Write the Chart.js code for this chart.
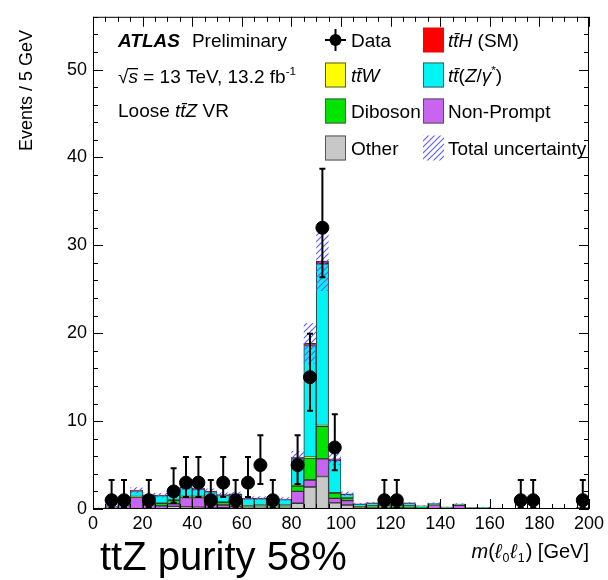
<!DOCTYPE html>
<html>
<head>
<meta charset="utf-8">
<script src="https://cdn.jsdelivr.net/npm/chart.js@4.4.1/dist/chart.umd.min.js"></script>
<style>
  html, body { margin: 0; padding: 0; background: #fff; }
  #wrap { width: 608px; height: 580px; }
</style>
</head>
<body>
<div id="wrap"><canvas id="mllChart" width="608" height="580"></canvas></div>
<script>
// m(l0 l1) in 5 GeV bins, 0-200 GeV
const binWidth = 5;
const binCenters = Array.from({ length: 40 }, (_, i) => binWidth / 2 + binWidth * i);

// MC stack, bottom to top
const other     = [0.02,0.05,0.05,0.05,0.05,0.05,0.3,0.25,0.2,0.1, 0.15,0.1,0.1,0.1,0.1,0.1,0.65,2.5,3.7,0.7, 0.45,0.05,0.05,0.05,0.05,0.05,0.03,0.03,0.02,0.02, 0.02,0.02,0.01,0.01,0.01,0.01,0.01,0.01,0.01,0.02];
const nonPrompt = [0.05,0.2,0.35,1.3,0.45,0.3,0.3,1.05,1.1,0.4, 0.3,0.2,0.15,0.1,0.1,0.1,1.35,0.8,2.0,0.5, 0.5,0.1,0.1,0.15,0.1,0.1,0.1,0.45,0.05,0.4, 0.05,0.08,0.03,0.02,0.03,0.05,0.02,0.05,0.02,0.03];
const diboson   = [0,0.02,0.02,0.05,0.05,0.3,0.4,0.1,0.1,0.1, 0.3,0.1,0.1,0.2,0.2,0.2,0.6,2.5,3.7,0.6, 0.3,0.1,0.2,0.2,0.3,0.2,0.05,0.05,0.05,0.05, 0.03,0.03,0.02,0.01,0.01,0.02,0.01,0.02,0.01,0.02];
const ttW       = [0,0.01,0.01,0.02,0.02,0.02,0.03,0.03,0.03,0.03, 0.03,0.03,0.03,0.03,0.03,0.03,0.05,0.1,0.1,0.05, 0.03,0.02,0.02,0.02,0.02,0.02,0.01,0.01,0.01,0.01, 0.01,0.01,0.01,0,0,0,0,0,0,0];
const ttZ       = [0.03,0.05,0.1,0.65,1.0,0.85,0.55,1.0,0.85,1.35, 0.8,1.25,0.8,0.75,0.7,0.65,3.05,12.7,18.4,3.7, 0.4,0.3,0.3,0.35,0.25,0.3,0.15,0.1,0.08,0.07, 0.05,0.05,0.03,0.02,0.02,0.03,0.02,0.03,0.02,0.12];
const ttH       = [0,0,0.01,0.05,0.05,0.05,0.05,0.07,0.06,0.05, 0.05,0.05,0.05,0.05,0.05,0.05,0.2,0.25,0.3,0.15, 0.05,0.02,0.02,0.02,0.02,0.02,0.01,0.01,0.01,0.01, 0.01,0.01,0,0,0,0,0,0,0,0.01];
const totalUnc  = [0.05,0.1,0.15,0.35,0.25,0.25,0.25,0.35,0.35,0.3, 0.25,0.25,0.2,0.2,0.2,0.2,0.7,2.3,3.4,0.7, 0.25,0.1,0.1,0.12,0.1,0.1,0.06,0.1,0.04,0.08, 0.03,0.04,0.02,0.01,0.01,0.02,0.01,0.02,0.01,0.04];

// data (null = empty bin), with lower / upper ends of the error bars
const dataCounts = [null,1,1,null,1,null,2,3,3,1, 3,1,3,5,1,null,5,15,32,7, null,null,null,1,1,null,null,null,null,null, null,null,null,null,1,1,null,null,null,1];
const dataLow    = [null,0.17,0.17,null,0.17,null,0.71,1.37,1.37,0.17, 1.37,0.17,1.37,2.84,0.17,null,2.84,11.17,26.37,4.42, null,null,null,0.17,0.17,null,null,null,null,null, null,null,null,null,0.17,0.17,null,null,null,0.17];
const dataHigh   = [null,3.3,3.3,null,3.3,null,4.64,5.92,5.92,3.3, 5.92,3.3,5.92,8.38,3.3,null,8.38,19.95,38.71,10.77, null,null,null,3.3,3.3,null,null,null,null,null, null,null,null,null,3.3,3.3,null,null,null,3.3];

const xTicks = [0, 20, 40, 60, 80, 100, 120, 140, 160, 180, 200];
const yTicks = [0, 10, 20, 30, 40, 50];

const FONT = '"Liberation Sans", Helvetica, Arial, sans-serif';
const colors = {
  other: '#c8c8c8', nonPrompt: '#c864f0', diboson: '#00e400',
  ttW: '#ffff00', ttZ: '#00f4f4', ttH: '#ff0000', hatch: '#5c5cff'
};

const stackTotal = binCenters.map((_, i) =>
  other[i] + nonPrompt[i] + diboson[i] + ttW[i] + ttZ[i] + ttH[i]);

function hatchPattern(ctx) {
  const c = document.createElement('canvas');
  c.width = 6; c.height = 6;
  const g = c.getContext('2d');
  g.strokeStyle = colors.hatch;
  g.lineWidth = 1.1;
  g.beginPath();
  g.moveTo(0, 6); g.lineTo(6, 0);
  g.moveTo(-1, 1); g.lineTo(1, -1);
  g.moveTo(5, 7); g.lineTo(7, 5);
  g.stroke();
  return ctx.createPattern(c, 'repeat');
}

// draws text pieces one after another; i = italic, b = bold, sup/sub
function richText(ctx, x, y, parts, size) {
  let cx = x;
  parts.forEach(p => {
    const fs = (p.sup || p.sub) ? size * 0.62 : size;
    const dy = p.sup ? -size * 0.4 : p.sub ? size * 0.22 : 0;
    ctx.font = `${p.i ? 'italic ' : ''}${p.b ? 'bold ' : ''}${fs}px ${FONT}`;
    ctx.fillText(p.t, cx, y + dy);
    cx += ctx.measureText(p.t).width + (p.gap || 0);
  });
  return cx - x;
}

function mcSet(label, values, color) {
  return {
    type: 'bar',
    label,
    stack: 'mc',
    data: binCenters.map((c, i) => ({ x: c, y: values[i] })),
    backgroundColor: color,
    borderColor: '#333',
    borderWidth: 1,
    borderSkipped: false,
    barPercentage: 1,
    categoryPercentage: 1
  };
}

const atlasDecor = {
  id: 'atlasDecor',
  beforeDatasetDraw(chart, args) {
    if (args.meta.type !== 'scatter') return;
    const { ctx, scales: { x, y } } = chart;
    ctx.save();
    // total uncertainty band
    ctx.fillStyle = hatchPattern(ctx);
    binCenters.forEach((c, i) => {
      const x0 = x.getPixelForValue(c - binWidth / 2);
      const x1 = x.getPixelForValue(c + binWidth / 2);
      const yTop = y.getPixelForValue(stackTotal[i] + totalUnc[i]);
      const yBot = y.getPixelForValue(Math.max(0, stackTotal[i] - totalUnc[i]));
      ctx.fillRect(x0, yTop, x1 - x0, yBot - yTop);
    });
    // data error bars
    ctx.strokeStyle = '#000';
    ctx.lineWidth = 2;
    binCenters.forEach((c, i) => {
      if (dataCounts[i] === null) return;
      const px = x.getPixelForValue(c);
      const lo = y.getPixelForValue(dataLow[i]);
      const hi = y.getPixelForValue(dataHigh[i]);
      ctx.beginPath();
      ctx.moveTo(px, lo); ctx.lineTo(px, hi);
      ctx.moveTo(px - 3, lo); ctx.lineTo(px + 3, lo);
      ctx.moveTo(px - 3, hi); ctx.lineTo(px + 3, hi);
      ctx.stroke();
    });
    ctx.restore();
  },
  afterDraw(chart) {
    const { ctx, chartArea: a, scales: { x, y } } = chart;
    ctx.save();
    // frame
    ctx.strokeStyle = '#000';
    ctx.lineWidth = 1;
    ctx.strokeRect(a.left + 0.5, a.top + 0.5, a.right - a.left - 1, a.bottom - a.top - 1);
    // inward ticks on all four sides
    ctx.beginPath();
    for (let v = 0; v <= 200; v += 5) {
      const px = Math.round(x.getPixelForValue(v)) + 0.5;
      const len = v % 20 === 0 ? 10 : 5;
      ctx.moveTo(px, a.bottom); ctx.lineTo(px, a.bottom - len);
      ctx.moveTo(px, a.top); ctx.lineTo(px, a.top + len);
    }
    for (let v = 0; v <= 56; v += 2) {
      const py = Math.round(y.getPixelForValue(v)) + 0.5;
      const len = v % 10 === 0 ? 10 : 5;
      ctx.moveTo(a.left, py); ctx.lineTo(a.left + len, py);
      ctx.moveTo(a.right, py); ctx.lineTo(a.right - len, py);
    }
    ctx.stroke();

    ctx.fillStyle = '#000';
    ctx.textBaseline = 'alphabetic';
    ctx.textAlign = 'left';

    // y axis title, aligned to the top
    ctx.save();
    ctx.translate(32, 30);
    ctx.rotate(-Math.PI / 2);
    ctx.textAlign = 'right';
    ctx.font = `18px ${FONT}`;
    ctx.fillText('Events / 5 GeV', 0, 0);
    ctx.restore();

    // x axis title, aligned to the right
    const xTitle = [
      { t: 'm', i: true }, { t: '(' }, { t: 'ℓ', i: true, gap: 1 }, { t: '0', sub: true, gap: 1 },
      { t: 'ℓ', i: true, gap: 1 }, { t: '1', sub: true, gap: 1 }, { t: ') [GeV]' }
    ];
    ctx.globalAlpha = 0;
    const w = richText(ctx, 0, 0, xTitle, 20);
    ctx.globalAlpha = 1;
    richText(ctx, a.right - w, 558, xTitle, 20);

    // ATLAS label
    richText(ctx, 118, 47, [{ t: 'ATLAS', i: true, b: true, gap: 12 }, { t: 'Preliminary' }], 19);
    richText(ctx, 118, 83, [{ t: '√' }, { t: 's', i: true }, { t: ' = 13 TeV, 13.2 fb' }, { t: '-1', sup: true }], 19);
    ctx.fillRect(128, 68, 10, 1.3);
    richText(ctx, 118, 117, [{ t: 'Loose ' }, { t: 'tt\u0304Z', i: true }, { t: ' VR' }], 19);

    // legend
    const rows = [40, 75, 111, 148];
    const box = (bx, cy, fill) => {
      ctx.fillStyle = fill;
      ctx.fillRect(bx, cy - 12.5, 21, 25);
      ctx.strokeStyle = '#555';
      ctx.lineWidth = 1;
      ctx.strokeRect(bx + 0.5, cy - 12, 20, 24);
      ctx.fillStyle = '#000';
    };
    // Data marker
    ctx.strokeStyle = '#000';
    ctx.lineWidth = 2;
    ctx.beginPath();
    ctx.moveTo(325, rows[0]); ctx.lineTo(346, rows[0]);
    ctx.moveTo(335.5, rows[0] - 11); ctx.lineTo(335.5, rows[0] + 11);
    ctx.stroke();
    ctx.beginPath();
    ctx.arc(335.5, rows[0], 6, 0, Math.PI * 2);
    ctx.fill();
    richText(ctx, 351, rows[0] + 7, [{ t: 'Data' }], 19);
    box(325, rows[1], colors.ttW);
    richText(ctx, 351, rows[1] + 7, [{ t: 'tt\u0304W', i: true }], 19);
    box(325, rows[2], colors.diboson);
    richText(ctx, 351, rows[2] + 7, [{ t: 'Diboson' }], 19);
    box(325, rows[3], colors.other);
    richText(ctx, 351, rows[3] + 7, [{ t: 'Other' }], 19);

    ctx.fillStyle = colors.ttH;
    ctx.fillRect(423, rows[0] - 12.5, 21, 25);
    ctx.fillStyle = '#000';
    richText(ctx, 448, rows[0] + 7, [{ t: 'tt\u0304H', i: true }, { t: ' (SM)' }], 19);
    box(423, rows[1], colors.ttZ);
    richText(ctx, 448, rows[1] + 7, [{ t: 'tt\u0304', i: true }, { t: '(' }, { t: 'Z', i: true }, { t: '/' },
      { t: 'γ', i: true }, { t: '*', sup: true }, { t: ')' }], 19);
    box(423, rows[2], colors.nonPrompt);
    richText(ctx, 448, rows[2] + 7, [{ t: 'Non-Prompt' }], 19);
    ctx.fillStyle = hatchPattern(ctx);
    ctx.fillRect(423, rows[3] - 12.5, 21, 25);
    ctx.fillStyle = '#000';
    richText(ctx, 448, rows[3] + 7, [{ t: 'Total uncertainty' }], 19);

    // purity note
    ctx.font = `40px ${FONT}`;
    ctx.fillText('ttZ purity 58%', 100, 570);
    ctx.restore();
  }
};

Chart.defaults.font.family = FONT;
Chart.defaults.font.size = 18;
Chart.defaults.color = '#000';

new Chart(document.getElementById('mllChart'), {
  type: 'bar',
  data: {
    datasets: [
      mcSet('Other', other, colors.other),
      mcSet('Non-Prompt', nonPrompt, colors.nonPrompt),
      mcSet('Diboson', diboson, colors.diboson),
      mcSet('ttW', ttW, colors.ttW),
      mcSet('tt(Z/γ*)', ttZ, colors.ttZ),
      mcSet('ttH (SM)', ttH, colors.ttH),
      {
        type: 'scatter',
        label: 'Data',
        stack: 'data',
        order: -1,
        data: binCenters.map((c, i) => ({ x: c, y: dataCounts[i] })),
        backgroundColor: '#000',
        borderColor: '#000',
        pointRadius: 6.5,
        pointHoverRadius: 6.5
      }
    ]
  },
  options: {
    responsive: false,
    devicePixelRatio: 1,
    animation: false,
    layout: { padding: { top: 16, right: 18, left: 0, bottom: 0 } },
    plugins: { legend: { display: false }, tooltip: { enabled: false } },
    scales: {
      x: {
        type: 'linear',
        stacked: true,
        offset: false,
        min: 0,
        max: 200,
        afterFit: s => { s.height = 71; },
        afterBuildTicks: s => { s.ticks = xTicks.map(v => ({ value: v })); },
        ticks: { padding: 4, maxRotation: 0, autoSkip: false, includeBounds: false },
        grid: { display: false, drawTicks: false, offset: false },
        border: { display: false }
      },
      y: {
        stacked: true,
        min: 0,
        max: 56,
        afterFit: s => { s.width = 93; },
        afterBuildTicks: s => { s.ticks = yTicks.map(v => ({ value: v })); },
        ticks: { padding: 6, includeBounds: false },
        grid: { display: false, drawTicks: false },
        border: { display: false }
      }
    }
  },
  plugins: [atlasDecor]
});
</script>
</body>
</html>
